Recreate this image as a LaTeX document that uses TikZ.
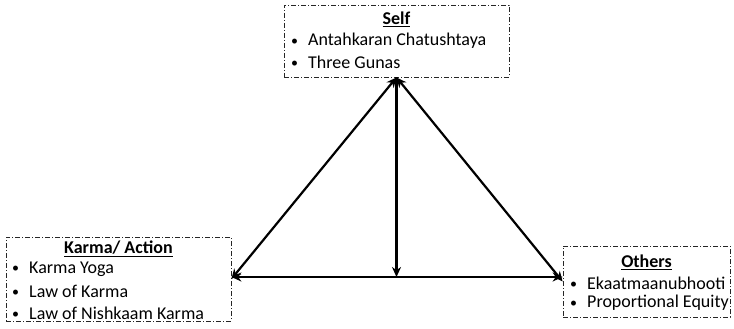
\documentclass[tikz,border=0pt]{standalone}
\usepackage{fontspec}
\setmainfont{Carlito}
\usetikzlibrary{arrows.meta}
\newcommand{\bl}[1]{\makebox[17pt][l]{\raisebox{0.5pt}{\fontsize{14}{14}\selectfont\textbullet}}#1}
\begin{document}
\begin{tikzpicture}[x=1pt,y=-1pt,
  box/.style={draw=black!85,line width=0.8pt,dash pattern=on 5pt off 2pt on 1pt off 2pt,inner sep=0pt},
  ttl/.style={font=\fontsize{18}{20}\selectfont\bfseries,inner sep=0pt},
  itm/.style={font=\fontsize{18}{20}\selectfont,inner sep=0pt,anchor=west},
  conn/.style={line width=2.2pt,black,{Stealth[length=10pt,width=9pt]}-{Stealth[length=10pt,width=9pt]}},
  down/.style={line width=2.2pt,black,-{Stealth[length=10pt,width=9pt]}}]
\useasboundingbox (0,0) rectangle (734,329);
% boxes
\node[box,minimum width=225pt,minimum height=72pt] (self) at (396.5,41) {};
\node[box,minimum width=225pt,minimum height=84pt] (karma) at (118.5,279) {};
\node[box,minimum width=167pt,minimum height=71pt] (others) at (646.5,281.5) {};
% Self text
\node[ttl] (selft) at (396.5,19) {\underline{Self}};
\node[itm] (self1) at (291,41) {\bl{Antahkaran Chatushtaya}};
\node[itm] (self2) at (291,62) {\bl{Three Gunas}};
% Karma text
\node[ttl] (karmat) at (118.5,249) {\underline{Karma/ Action}};
\node[itm] (karma1) at (12,269) {\bl{Karma Yoga}};
\node[itm] (karma2) at (12,291) {\bl{Law of Karma}};
\node[itm] (karma3) at (12,313) {\bl{Law of Nishkaam Karma}};
% Others text
\node[ttl] (otherst) at (646.5,262) {\underline{Others}};
\node[itm] (others1) at (570,283) {\bl{Ekaatmaanubhooti}};
\node[itm] (others2) at (570,303) {\bl{Proportional Equity}};
% connectors
\coordinate (base) at ([yshift=2pt]self.south |- karma.east);
\draw[conn] (self.south) -- (karma.east);
\draw[conn] (self.south) -- (others.west);
\draw[conn] ([yshift=2pt]karma.east) -- ([yshift=2pt]karma.east -| others.west);
\draw[down] (self.south) -- (base);
\end{tikzpicture}
\end{document}
